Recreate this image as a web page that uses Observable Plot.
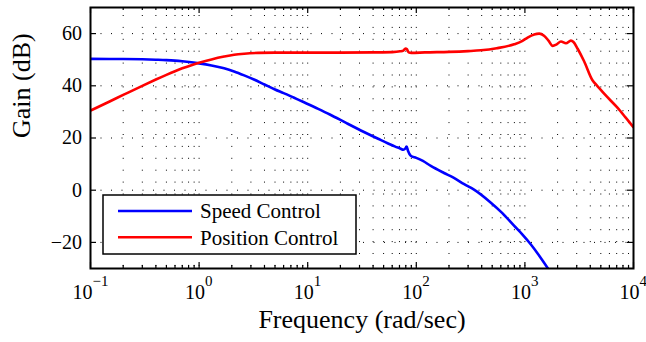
<!DOCTYPE html>
<html>
<head>
<meta charset="utf-8">
<script src="https://cdn.jsdelivr.net/npm/d3@7"></script>
<script src="https://cdn.jsdelivr.net/npm/@observablehq/plot@0.6"></script>
<style>
  html, body { margin: 0; padding: 0; background: white; }
  svg { display: block; }
</style>
</head>
<body>
<div id="chart"></div>
<script>
// ---- data ----
const seriesNames = ["Speed Control", "Position Control"];
const seriesColors = ["#0000ff", "#ff0000"];

const speedFreq = [0.1, 0.2, 0.3, 0.4, 0.5, 0.6, 0.7, 0.85, 1.0, 1.3, 1.7, 2.1, 2.6, 3.2, 4.0, 5.0, 6.0, 7.5, 9.25, 12, 16, 23, 33, 45, 55, 64, 71, 76, 79, 81.5, 84, 88.9, 100, 115, 136, 180, 220, 276, 340, 486, 620, 798, 950, 1136, 1350, 1618, 1800];
const speedGain = [50.3, 50.25, 50.15, 50.0, 49.85, 49.65, 49.4, 49.0, 48.6, 47.8, 46.7, 45.5, 44.0, 42.4, 40.5, 38.6, 37.2, 35.4, 33.7, 31.5, 29.0, 25.6, 22.3, 19.6, 17.9, 16.7, 16.0, 15.5, 15.9, 16.7, 15.0, 13.2, 12.4, 11.2, 9.3, 6.6, 4.8, 2.3, 0.2, -4.8, -8.8, -13.7, -17.0, -20.8, -25.0, -29.8, -32.8];

const posFreq = [0.1, 0.15, 0.2, 0.3, 0.4, 0.5, 0.6, 0.7, 0.85, 1.0, 1.3, 1.7, 2.1, 2.6, 3.5, 5, 10, 20, 40, 60, 71, 76, 79.5, 82, 85, 90, 120, 200, 300, 393, 550, 796, 950, 1059, 1219, 1355, 1500, 1650, 1800, 1950, 2148, 2389, 2653, 2800, 3060, 3500, 4206, 4613, 5500, 7046, 8400, 10000];
const posGain = [30.5, 34.0, 36.5, 40.0, 42.4, 44.2, 45.6, 46.7, 47.9, 48.8, 50.1, 51.2, 51.9, 52.3, 52.6, 52.7, 52.7, 52.7, 52.8, 52.9, 53.2, 53.5, 54.3, 54.0, 52.8, 52.6, 52.8, 53.0, 53.3, 53.6, 54.4, 55.9, 57.2, 58.5, 59.7, 60.0, 59.2, 57.3, 55.3, 55.8, 57.0, 56.3, 57.3, 56.8, 54.2, 49.5, 42.0, 40.1, 36.5, 31.8, 28.0, 24.1];

const xDecadeExponents = [-1, 0, 1, 2, 3, 4];
const xMinorMultipliers = [2, 3, 4, 5, 6, 7, 8, 9];
const yTicks = [-20, 0, 20, 40, 60];
const xLabel = "Frequency (rad/sec)";
const yLabel = "Gain (dB)";

// ---- derived tables ----
const speed = speedFreq.map((f, i) => ({f, g: speedGain[i]}));
const pos = posFreq.map((f, i) => ({f, g: posGain[i]}));
const xMajor = xDecadeExponents.map(e => 10 ** e);
const xMinor = xDecadeExponents.slice(0, -1).flatMap(e => xMinorMultipliers.map(m => m * 10 ** e));
const xGrid = xMajor.concat(xMinor);
const negExp = xDecadeExponents.filter(e => e < 0);
const posExp = xDecadeExponents.filter(e => e >= 0);
const fmtY = d => d < 0 ? "\u2212" + Math.abs(d) : String(d);
const fmtE = e => e < 0 ? "\u2212" + Math.abs(e) : String(e);

const FONT = "'Liberation Serif', 'Times New Roman', serif";

function decadeLabels(exps, join) {
  return [
    Plot.text(exps, {x: e => 10 ** e, text: () => "10", frameAnchor: "bottom", textAnchor: "end", dx: join, dy: 30, fontSize: 20, fill: "black"}),
    Plot.text(exps, {x: e => 10 ** e, text: fmtE, frameAnchor: "bottom", textAnchor: "start", dx: join, dy: 17.5, fontSize: 15, fill: "black"})
  ];
}

const plot = Plot.plot({
  width: 646,
  height: 342,
  marginLeft: 90,
  marginRight: 13,
  marginTop: 7,
  marginBottom: 74,
  style: {fontFamily: FONT, background: "white", overflow: "visible"},
  x: {type: "log", domain: [0.1, 10000], axis: null},
  y: {domain: [-30, 70], axis: null},
  marks: [
    // dotted grid
    Plot.ruleX(xGrid, {x: d => d, stroke: "black", strokeWidth: 1, strokeDasharray: "1,10.9", strokeDashoffset: 3.9}),
    Plot.ruleY(yTicks, {y: d => d, stroke: "black", strokeWidth: 1, strokeDasharray: "1,9.5"}),
    // curves
    Plot.line(speed, {x: "f", y: "g", stroke: seriesColors[0], strokeWidth: 2.6, curve: "monotone-x", clip: true, strokeLinejoin: "round"}),
    Plot.line(pos, {x: "f", y: "g", stroke: seriesColors[1], strokeWidth: 2.6, curve: "monotone-x", clip: true, strokeLinejoin: "round"}),
    // inward ticks
    Plot.tickX(xMajor, {x: d => d, insetTop: 255, stroke: "black", strokeWidth: 1.2}),
    Plot.tickX(xMajor, {x: d => d, insetBottom: 255, stroke: "black", strokeWidth: 1.2}),
    Plot.tickX(xMinor, {x: d => d, insetTop: 258, stroke: "black", strokeWidth: 1.2}),
    Plot.tickX(xMinor, {x: d => d, insetBottom: 258, stroke: "black", strokeWidth: 1.2}),
    Plot.tickY(yTicks, {y: d => d, insetRight: 537, stroke: "black", strokeWidth: 1.2}),
    Plot.tickY(yTicks, {y: d => d, insetLeft: 537, stroke: "black", strokeWidth: 1.2}),
    Plot.frame({stroke: "black", strokeWidth: 2}),
    // tick labels
    Plot.text(yTicks, {y: d => d, text: fmtY, frameAnchor: "left", textAnchor: "end", dx: -8.5, fontSize: 20, fill: "black"}),
    ...decadeLabels(negExp, 2),
    ...decadeLabels(posExp, 6),
    // axis titles
    Plot.text([xLabel], {text: d => d, frameAnchor: "bottom", dy: 59, fontSize: 26, fill: "black"}),
    Plot.text([yLabel], {text: d => d, frameAnchor: "left", rotate: -90, dx: -69, fontSize: 26, fill: "black"})
  ]
});

document.getElementById("chart").appendChild(plot);

// legend box (inside the plot area, lower left)
const svg = d3.select(plot);
const lg = svg.append("g").attr("font-family", FONT).attr("font-size", 21).attr("text-anchor", "start");
lg.append("rect").attr("x", 103).attr("y", 195).attr("width", 253).attr("height", 59)
  .attr("fill", "white").attr("stroke", "black").attr("stroke-width", 1.5);
seriesNames.forEach((name, i) => {
  const yy = 211 + i * 26.3;
  lg.append("line").attr("x1", 118).attr("x2", 192).attr("y1", yy).attr("y2", yy)
    .attr("stroke", seriesColors[i]).attr("stroke-width", 2.6);
  lg.append("text").attr("x", 200).attr("y", yy + 7.3).attr("fill", "black")
    .attr("text-anchor", "start").text(name);
});
</script>
</body>
</html>
